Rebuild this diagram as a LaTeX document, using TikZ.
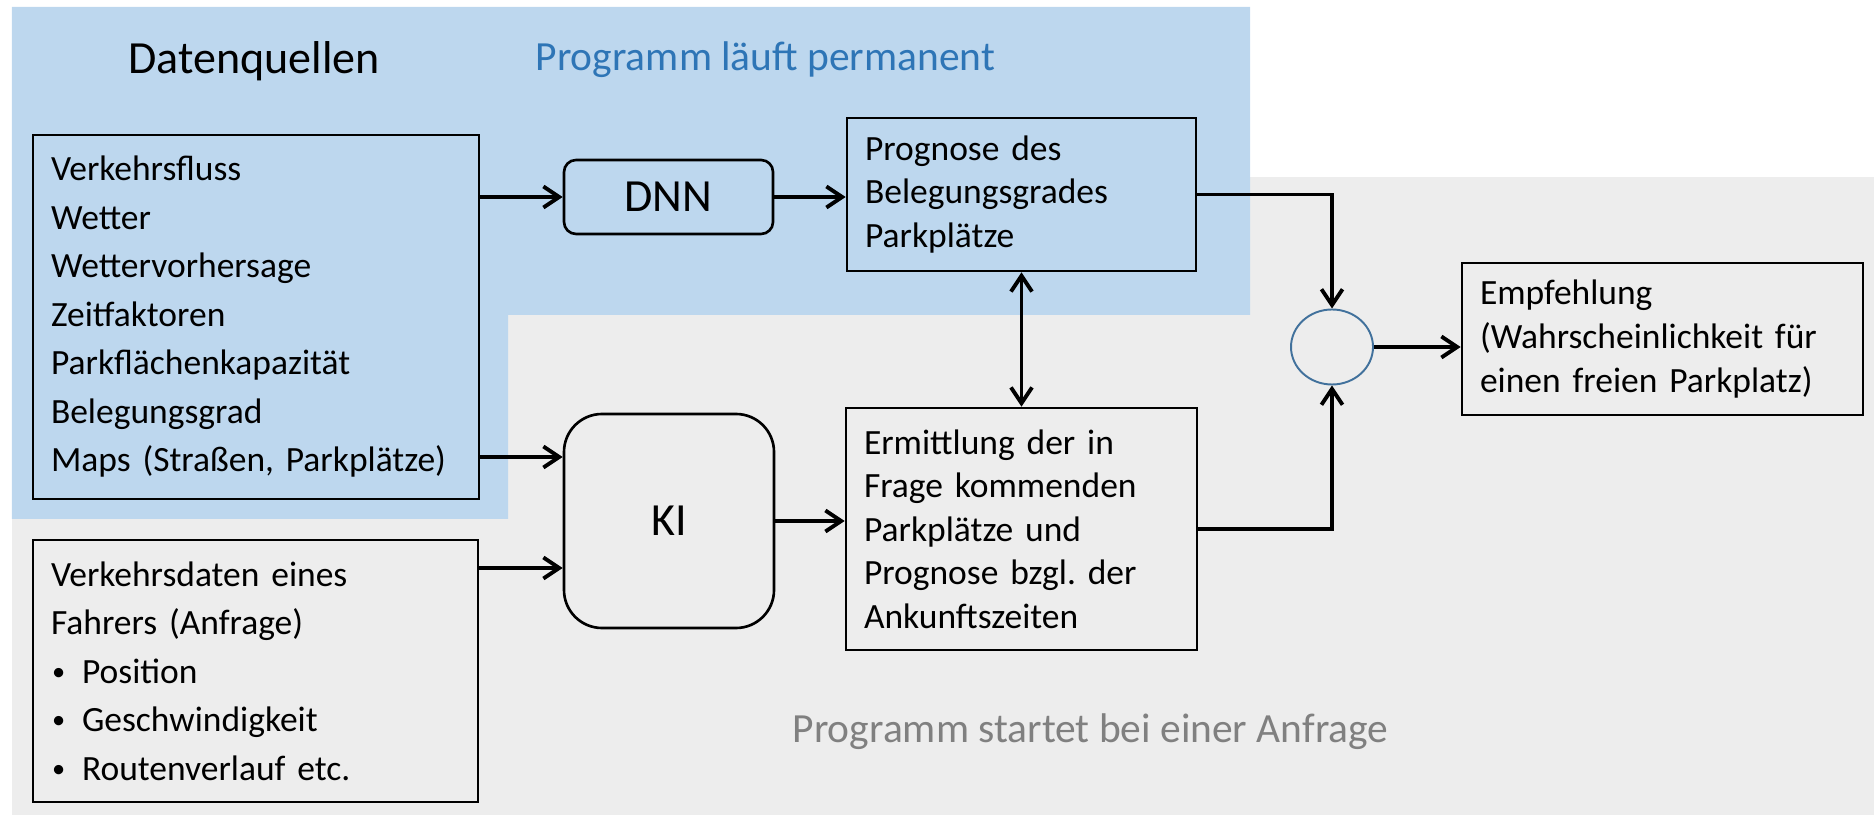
\documentclass[tikz,border=0pt]{standalone}
\usepackage{fontspec}
\setmainfont{Carlito}
\usetikzlibrary{arrows.meta,shapes.geometric}

\definecolor{permblue}{RGB}{189,215,238}
\definecolor{reqgrey}{RGB}{237,237,237}
\definecolor{headblue}{RGB}{46,117,182}
\definecolor{headgrey}{RGB}{128,128,128}
\definecolor{ringblue}{RGB}{65,113,156}

\newcommand{\bul}{\makebox[0.31cm][l]{\hspace*{0.3pt}\raisebox{0.9pt}{\fontsize{7.5}{8}\selectfont•}}}
\frenchspacing

\begin{document}
\begin{tikzpicture}[
    >={Straight Barb[length=4.5pt,width=6pt]},
    box/.style={draw, line width=0.75pt, inner xsep=0.18cm, inner ysep=0pt, align=left},
    listtext/.style={font=\fontsize{10.1}{13.8}\selectfont},
    boxtext/.style={font=\fontsize{10.1}{12.4}\selectfont},
    netbox/.style={draw, line width=0.75pt, inner sep=0pt, font=\fontsize{13.1}{15}\selectfont},
    arr/.style={line width=1.1pt, ->},
    biarr/.style={line width=1.1pt, <->},
  ]
	\useasboundingbox (0,0) rectangle (18.74,-8.15);
	% two areas: permanent part and request part
	\fill[reqgrey] (0.12,-1.77) rectangle (18.74,-8.15);
	\fill[permblue] (0.12,-0.07)--(12.50,-0.07)--(12.50,-3.15)--(5.08,-3.15)--(5.08,-5.19)--(0.12,-5.19)--cycle;
	\node[anchor=base, font=\fontsize{13.1}{15}\selectfont] (srctitle) at (2.54,-0.74) {Datenquellen};
	\node[anchor=base west, inner sep=0pt, text=headblue, font=\fontsize{11.8}{14}\selectfont] (permtitle) at (5.35,-0.71) {Programm läuft permanent};
	\node[anchor=base west, inner sep=0pt, text=headgrey, font=\fontsize{11.8}{14}\selectfont] (reqtitle) at (7.92,-7.42) {Programm startet bei einer Anfrage};
	% inputs
	\node[box, listtext, text width=4.10cm, minimum height=3.64cm] (src) at (2.56,-3.17) {Verkehrsfluss\\Wetter\\Wettervorhersage\\Zeitfaktoren\\Parkflächenkapazität\\Belegungsgrad\\Maps (Straßen, Parkplätze)};
	\node[box, listtext, text width=4.09cm, minimum height=2.62cm] (drv) at (2.555,-6.71) {Verkehrsdaten eines\\Fahrers (Anfrage)\\\bul Position\\\bul Geschwindigkeit\\\bul Routenverlauf etc.};
	% networks
	\node[netbox, rounded corners=0.12cm, minimum width=2.09cm, minimum height=0.74cm] (dnn) at (6.685,-1.97) {DNN};
	\node[netbox, rounded corners=0.38cm, minimum width=2.10cm, minimum height=2.14cm] (ki) at (6.69,-5.21) {KI};
	% results
	\node[box, boxtext, text width=3.13cm, minimum height=1.53cm] (prog) at (10.215,-1.945) {Prognose des\\Belegungsgrades\\Parkplätze};
	\node[box, boxtext, text width=3.15cm, minimum height=2.42cm] (erm) at (10.215,-5.29) {Ermittlung der in\\Frage kommenden\\Parkplätze und\\Prognose bzgl. der\\Ankunftszeiten};
	\node[ellipse, draw=ringblue, line width=0.55pt, inner sep=0pt, minimum width=0.82cm, minimum height=0.75cm] (sum) at (13.32,-3.47) {};
	\node[box, boxtext, text width=3.65cm, minimum height=1.52cm] (rec) at (16.625,-3.39) {Empfehlung\\(Wahrscheinlichkeit für\\einen freien Parkplatz)};
	% connections
	\draw[arr] (src.east |- dnn.west)--(dnn.west);
	\draw[arr] (dnn.east)--(dnn.east -| prog.west);
	\draw[arr] (src.east |- 0,-4.57)--(ki.west |- 0,-4.57);
	\draw[arr] (drv.east |- 0,-5.68)--(ki.west |- 0,-5.68);
	\draw[arr] (ki.east)--(ki.east -| erm.west);
	\draw[biarr] (prog.south)--(erm.north);
	\draw[arr] (prog.east) -| (sum.north);
	\draw[arr] (erm.east) -| (sum.south);
	\draw[arr] (sum.east)--(sum.east -| rec.west);
\end{tikzpicture}
\end{document}
